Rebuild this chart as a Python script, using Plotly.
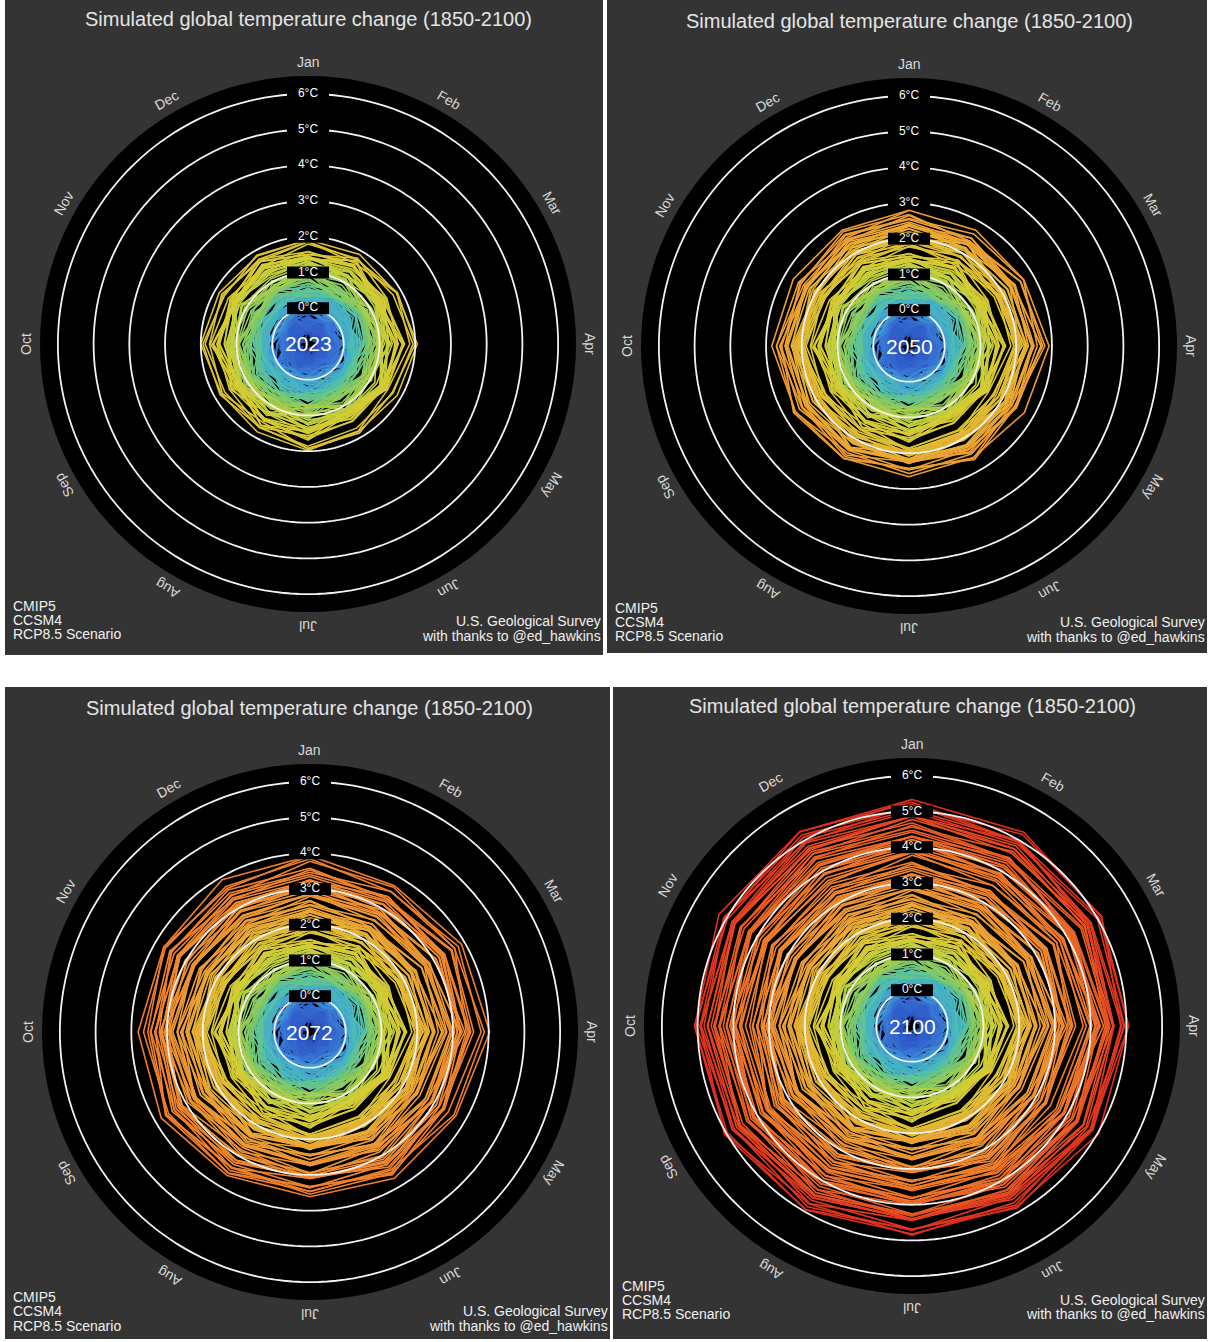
import math
import plotly.graph_objects as go

W, H = 1211, 1342

# ---------------- data (read / estimated from the picture) ----------------
years = list(range(1850, 2101))
annual = [
    -0.52, -0.60, -0.48, -0.55, -0.66, -0.50, -0.58, -0.45, -0.62, -0.54,
    -0.57, -0.49, -0.63, -0.52, -0.44, -0.59, -0.51, -0.65, -0.47, -0.55,
    -0.50, -0.58, -0.43, -0.61, -0.53, -0.46, -0.56, -0.40, -0.52, -0.60,
    -0.48, -0.55, -0.63, -0.70, -0.58, -0.52, -0.45, -0.57, -0.49, -0.42,
    -0.54, -0.47, -0.60, -0.51, -0.44, -0.55, -0.40, -0.48, -0.52, -0.43,
    -0.38, -0.45, -0.50, -0.41, -0.47, -0.36, -0.43, -0.49, -0.39, -0.44,
    -0.35, -0.42, -0.30, -0.38, -0.27, -0.33, -0.40, -0.29, -0.34, -0.24,
    -0.28, -0.20, -0.26, -0.15, -0.22, -0.12, -0.18, -0.09, -0.16, -0.06,
    -0.10, -0.02, -0.08, 0.03, -0.04, 0.06, 0.00, 0.09, 0.02, 0.12,
    0.06, 0.15, 0.09, 0.19, 0.12, 0.22, 0.14, 0.11, 0.20, 0.25,
    0.18, 0.27, 0.21, 0.30, 0.24, 0.17, 0.29, 0.34, 0.26, 0.32,
    0.37, 0.30, 0.24, 0.19, 0.27, 0.35, 0.41, 0.34, 0.43, 0.48,
    0.42, 0.51, 0.46, 0.56, 0.50, 0.59, 0.53, 0.64, 0.58, 0.67,
    0.62, 0.71, 0.66, 0.76, 0.70, 0.79, 0.75, 0.85, 0.80, 0.89,
    0.84, 0.93, 0.82, 0.92, 0.99, 0.95, 1.04, 1.00, 1.10, 1.05,
    1.12, 1.08, 1.18, 1.14, 1.22, 1.17, 1.26, 1.21, 1.30, 1.25,
    1.33, 1.28, 1.38, 1.34, 1.42, 1.37, 1.46, 1.41, 1.50, 1.45,
    1.58, 1.55, 1.64, 1.70, 1.67, 1.74, 1.71, 1.79, 1.76, 1.84,
    1.88, 1.85, 1.93, 1.90, 1.98, 1.95, 2.03, 2.00, 2.08, 2.05,
    2.13, 2.10, 2.20, 2.17, 2.27, 2.24, 2.34, 2.31, 2.41, 2.39,
    2.52, 2.49, 2.60, 2.57, 2.68, 2.65, 2.76, 2.73, 2.84, 2.82,
    2.93, 2.91, 3.02, 3.00, 3.11, 3.09, 3.20, 3.18, 3.29, 3.27,
    3.40, 3.37, 3.55, 3.51, 3.60, 3.58, 3.69, 3.67, 3.79, 3.77,
    3.88, 3.86, 3.98, 3.96, 4.08, 4.06, 4.18, 4.16, 4.29, 4.27,
    4.38, 4.36, 4.49, 4.47, 4.59, 4.57, 4.69, 4.68, 4.80, 4.79,
    4.92,
]
# monthly departure from the annual value, one row per decade (Jan..Dec)
decade_dev = [
    [0.12, -0.08, 0.05, 0.15, -0.10, 0.02, -0.12, 0.08, -0.05, 0.10, -0.15, 0.06],
    [-0.10, 0.14, -0.04, 0.08, 0.16, -0.06, 0.04, -0.14, 0.10, -0.02, 0.12, -0.08],
    [0.05, -0.12, 0.18, -0.06, 0.02, 0.12, -0.10, 0.06, 0.14, -0.12, 0.00, 0.10],
    [0.15, 0.04, -0.10, 0.12, -0.08, -0.14, 0.10, 0.02, -0.06, 0.14, 0.08, -0.12],
    [-0.06, 0.10, 0.12, -0.14, 0.06, 0.08, -0.04, -0.12, 0.16, 0.02, -0.10, 0.14],
    [0.10, -0.14, 0.02, 0.16, -0.12, 0.10, 0.06, -0.08, -0.02, 0.12, 0.14, -0.06],
    [-0.12, 0.06, 0.14, -0.02, 0.12, -0.10, 0.16, 0.04, -0.12, -0.06, 0.10, 0.08],
    [0.16, 0.10, -0.12, 0.06, -0.04, 0.14, -0.08, 0.12, 0.06, -0.14, -0.02, 0.12],
    [0.04, -0.10, 0.10, 0.18, 0.08, -0.12, 0.02, -0.06, 0.14, 0.10, -0.12, -0.02],
    [-0.14, 0.12, 0.06, -0.08, 0.16, 0.04, -0.12, 0.10, -0.04, 0.08, 0.16, -0.10],
    [0.12, -0.04, -0.14, 0.10, 0.02, 0.16, 0.08, -0.12, 0.12, -0.06, 0.04, 0.14],
    [0.08, 0.16, 0.04, -0.12, 0.12, -0.06, 0.14, 0.06, -0.10, 0.16, -0.08, 0.02],
    [-0.06, 0.08, 0.16, 0.12, -0.10, 0.06, -0.04, 0.16, 0.08, -0.12, 0.12, 0.10],
    [0.18, -0.10, 0.08, 0.02, 0.14, -0.12, 0.10, -0.02, 0.16, 0.06, -0.14, 0.08],
    [0.10, 0.14, -0.08, 0.16, -0.04, 0.10, -0.12, 0.12, 0.02, 0.14, 0.08, -0.10],
    [0.14, 0.04, 0.12, -0.10, 0.18, 0.02, 0.08, -0.14, 0.10, -0.04, 0.16, 0.12],
    [0.06, 0.18, -0.06, 0.14, 0.04, -0.10, 0.12, 0.10, -0.08, 0.16, 0.02, 0.14],
    [0.22, 0.14, 0.20, 0.36, 0.12, 0.18, 0.28, 0.10, 0.16, 0.30, 0.12, 0.18],
    [0.16, 0.22, 0.08, 0.14, 0.20, 0.04, 0.12, 0.18, 0.06, 0.16, 0.10, 0.20],
    [0.22, 0.12, 0.18, 0.30, 0.10, 0.16, 0.06, 0.14, 0.20, 0.26, 0.14, 0.18],
    [0.28, 0.18, 0.22, 0.40, 0.16, 0.12, 0.14, 0.08, 0.20, 0.32, 0.18, 0.24],
    [0.24, 0.16, 0.28, 0.20, 0.10, 0.22, 0.08, 0.18, 0.26, 0.14, 0.24, 0.20],
    [0.38, 0.24, 0.30, 0.48, 0.20, 0.12, 0.06, 0.14, 0.22, 0.26, 0.24, 0.32],
    [0.34, 0.26, 0.20, 0.24, 0.14, 0.08, 0.02, 0.10, 0.18, 0.22, 0.28, 0.36],
    [0.40, 0.30, 0.22, 0.16, 0.10, -0.02, -0.06, 0.04, 0.14, 0.24, 0.30, 0.38],
    [0.42, 0.30, 0.22, 0.14, 0.06, -0.04, -0.10, 0.00, 0.10, 0.16, 0.28, 0.38],
]
# extra year-to-year wobble, indexed by the year's position within its decade
year_dev = [
    [0.00, 0.04, -0.03, 0.00, 0.05, -0.04, 0.00, 0.03, -0.05, 0.00, 0.04, -0.02],
    [0.10, -0.08, 0.12, -0.06, -0.10, 0.08, 0.11, -0.12, 0.06, -0.09, 0.12, -0.05],
    [0.00, -0.06, 0.05, 0.00, -0.04, 0.06, 0.00, -0.05, 0.04, 0.00, -0.06, 0.05],
    [0.00, 0.05, -0.04, 0.00, 0.06, -0.05, 0.00, 0.04, -0.06, 0.00, 0.05, -0.04],
    [-0.12, 0.10, -0.06, 0.12, 0.08, -0.10, -0.09, 0.11, -0.12, 0.07, -0.08, 0.12],
    [0.08, 0.12, -0.10, -0.08, 0.11, 0.06, -0.12, -0.06, 0.10, 0.12, -0.10, 0.04],
    [-0.09, -0.11, 0.08, 0.10, -0.12, 0.12, 0.06, -0.10, -0.08, 0.11, 0.09, -0.12],
    [0.12, -0.04, -0.11, 0.09, 0.06, -0.12, 0.10, 0.12, -0.06, -0.10, 0.08, 0.11],
    [-0.06, 0.09, 0.11, -0.12, -0.08, 0.10, -0.05, 0.09, 0.12, -0.11, -0.06, 0.10],
    [0.07, -0.12, 0.04, 0.11, -0.09, -0.06, 0.12, -0.08, 0.10, 0.06, -0.12, -0.07],
]
months = ["Jan", "Feb", "Mar", "Apr", "May", "Jun", "Jul", "Aug", "Sep", "Oct", "Nov", "Dec"]
ring_levels = [0, 1, 2, 3, 4, 5, 6]
ring_labels = ["0°C", "1°C", "2°C", "3°C", "4°C", "5°C", "6°C"]
panel_years = [2023, 2050, 2072, 2100]
title_text = "Simulated global temperature change (1850-2100)"
left_notes = ["CMIP5", "CCSM4", "RCP8.5 Scenario"]
right_notes = ["U.S. Geological Survey", "with thanks to @ed_hawkins"]

# colour ramp by temperature
temp_stops = [-0.8, -0.4, -0.1, 0.15, 0.4, 0.7, 1.0, 1.4, 1.9, 2.3, 3.0, 3.8, 4.3, 4.6, 5.0]
color_stops = ["#2542a8", "#3160cc", "#3a7ad6", "#3fa4d4", "#4fbfb2", "#78c86e", "#b0cf46",
               "#d6cc35", "#e4b833", "#eea035", "#f18a30", "#f07429", "#ea5a24", "#e43c20", "#de2a1e"]


def hex2rgb(h):
    h = h.lstrip("#")
    return tuple(int(h[i:i + 2], 16) for i in (0, 2, 4))


def temp_color(t):
    if t <= temp_stops[0]:
        return color_stops[0]
    if t >= temp_stops[-1]:
        return color_stops[-1]
    for i in range(len(temp_stops) - 1):
        a, b = temp_stops[i], temp_stops[i + 1]
        if a <= t <= b:
            f = (t - a) / (b - a)
            c1, c2 = hex2rgb(color_stops[i]), hex2rgb(color_stops[i + 1])
            c = [round(c1[j] + (c2[j] - c1[j]) * f) for j in range(3)]
            return "rgb(%d,%d,%d)" % tuple(c)
    return color_stops[-1]


# ---------------- layout geometry (pixels) ----------------
R_PX = 268
R_MIN, R_MAX = -1.0, 6.5
LABEL_R_PX = 282
BIN = 0.1
PANEL_BG = "#343434"

panels = [
    dict(rect=(5, 0, 603, 655), c=(308, 344), ty=19, lx=11, ly=[606, 620, 634], rx=603, ry=[621, 636]),
    dict(rect=(607, 0, 1207, 653), c=(909, 346), ty=21, lx=613, ly=[608, 622, 636], rx=1207, ry=[622, 637]),
    dict(rect=(5, 687, 610, 1339), c=(310, 1032), ty=708, lx=11, ly=[1297, 1311, 1326], rx=610, ry=[1311, 1326]),
    dict(rect=(613, 687, 1207, 1339), c=(912, 1026), ty=706, lx=620, ly=[1286, 1300, 1314], rx=1207, ry=[1300, 1314]),
]

FONT = "Liberation Sans, Arial, Helvetica, sans-serif"

fig = go.Figure()
shapes = []
annotations = []
layout_polars = {}
month_theta = [m * 30 for m in range(12)]


def month_values(i):
    d = min(i // 10, len(decade_dev) - 1)
    w = year_dev[i % 10]
    return [annual[i] + decade_dev[d][m] + w[m] for m in range(12)]


for k, p in enumerate(panels):
    name = "polar" if k == 0 else "polar%d" % (k + 1)
    end = panel_years[k]
    groups = {}
    for y in range(1850, end + 1):
        i = y - 1850
        rs = month_values(i)
        if y < end:
            rs.append(month_values(i + 1)[0])
        else:
            rs.append(rs[0])
        b = round(annual[i] / BIN)
        g = groups.setdefault(b, ([], []))
        g[0].extend(rs + [None])
        g[1].extend(month_theta + [360, None])
    for b in sorted(groups):
        fig.add_trace(go.Scatterpolar(
            r=groups[b][0], theta=groups[b][1], mode="lines",
            line=dict(color=temp_color(b * BIN), width=1.6),
            connectgaps=False, hoverinfo="skip", showlegend=False, subplot=name))
    # temperature rings on top
    ring_theta = list(range(0, 361, 2))
    for lev in ring_levels:
        fig.add_trace(go.Scatterpolar(
            r=[lev] * len(ring_theta), theta=ring_theta, mode="lines",
            line=dict(color="#f2f2f2", width=1.8),
            hoverinfo="skip", showlegend=False, subplot=name))
    # ring labels with black boxes
    fig.add_trace(go.Scatterpolar(
        r=ring_levels, theta=[0] * len(ring_levels), mode="markers+text",
        text=ring_labels, textposition="middle center",
        textfont=dict(family=FONT, size=12, color="white"),
        marker=dict(symbol="line-ew", size=30, color="black",
                    line=dict(width=12, color="black")),
        hoverinfo="skip", showlegend=False, subplot=name))

    cx, cy = p["c"]
    layout_polars[name] = dict(
        domain=dict(x=[(cx - R_PX) / W, (cx + R_PX) / W],
                    y=[1 - (cy + R_PX) / H, 1 - (cy - R_PX) / H]),
        bgcolor="black",
        radialaxis=dict(range=[R_MIN, R_MAX], visible=False),
        angularaxis=dict(rotation=90, direction="clockwise", visible=False),
    )
    x0, y0, x1, y1 = p["rect"]
    shapes.append(dict(type="rect", xref="paper", yref="paper",
                       x0=x0 / W, x1=x1 / W, y0=1 - y1 / H, y1=1 - y0 / H,
                       fillcolor=PANEL_BG, line=dict(width=0), layer="below"))
    # month labels
    for m, lab in enumerate(months):
        ang = m * 30
        px = cx + LABEL_R_PX * math.sin(math.radians(ang))
        py = cy - LABEL_R_PX * math.cos(math.radians(ang))
        ta = ang if ang <= 180 else ang - 360
        annotations.append(dict(x=px / W, y=1 - py / H, xref="paper", yref="paper",
                                text=lab, showarrow=False, textangle=ta,
                                xanchor="center", yanchor="middle",
                                font=dict(family=FONT, size=14, color="#d9d9d9")))
    # title
    annotations.append(dict(x=cx / W, y=1 - p["ty"] / H, xref="paper", yref="paper",
                            text=title_text, showarrow=False, xanchor="center", yanchor="middle",
                            font=dict(family=FONT, size=20, color="#e4e4e4")))
    # year label
    annotations.append(dict(x=cx / W, y=1 - cy / H, xref="paper", yref="paper",
                            text=str(end), showarrow=False, xanchor="center", yanchor="middle",
                            font=dict(family=FONT, size=21, color="white")))
    for t, yy in zip(left_notes, p["ly"]):
        annotations.append(dict(x=p["lx"] / W, y=1 - yy / H, xref="paper", yref="paper",
                                text=t, showarrow=False, xanchor="left", yanchor="middle",
                                font=dict(family=FONT, size=14, color="#f0f0f0")))
    for t, yy in zip(right_notes, p["ry"]):
        annotations.append(dict(x=p["rx"] / W, y=1 - yy / H, xref="paper", yref="paper",
                                text=t, showarrow=False, xanchor="right", yanchor="middle",
                                font=dict(family=FONT, size=14, color="#f0f0f0")))

fig.update_layout(
    width=W, height=H, margin=dict(l=0, r=0, t=0, b=0),
    paper_bgcolor="white", plot_bgcolor="white",
    showlegend=False, shapes=shapes, annotations=annotations,
    **layout_polars,
)

fig.write_html(
    "out.html",
    config={"displayModeBar": False, "staticPlot": True},
    post_script="document.body.style.margin='0';document.body.style.overflow='hidden';",
)
